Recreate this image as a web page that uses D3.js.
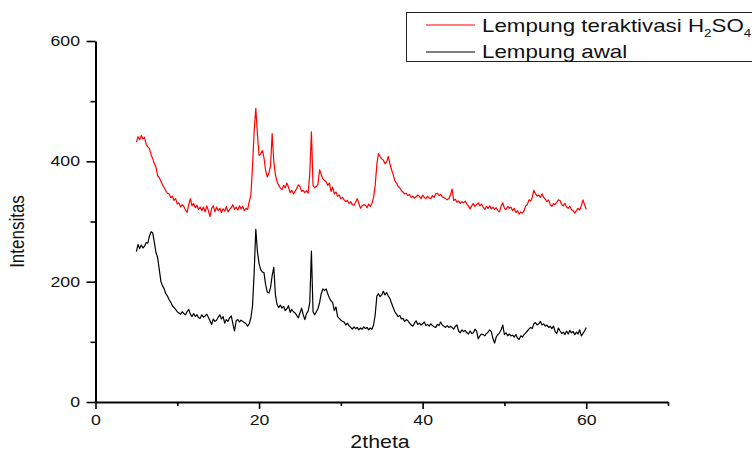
<!DOCTYPE html>
<html>
<head>
<meta charset="utf-8" />
<title>XRD Lempung</title>
<script src="https://d3js.org/d3.v7.min.js"></script>
<style>
body { margin: 0; background: #fff; }
text { font-family: "Liberation Sans", Arial, sans-serif; fill: #111; }
</style>
</head>
<body>
<div id="xrd_figure"></div>
<script>

// 2theta grid of the scan: 5 to 60 degrees, step 0.2
var theta_start = 5, theta_step = 0.2

// Lempung teraktivasi H2SO4 (red), one row = 2 degrees
var activated = [
  432,441,436,443,437,440,428,424,421,411,
  404,396,390,376,373,367,361,356,351,347,
  346,340,342,335,338,329,331,324,328,325,
  319,315,328,338,326,330,323,327,320,324,
  318,324,316,326,318,308,322,326,316,324,
  318,322,315,321,317,325,316,320,323,328,
  320,324,319,326,321,325,318,322,320,333,
  344,392,450,488,445,410,412,418,406,385,
  374,380,392,446,400,378,366,360,356,353,
  360,356,364,357,348,352,346,350,355,361,
  358,350,352,348,351,347,380,449,360,356,
  358,362,386,378,371,368,366,360,364,350,
  357,346,349,342,344,338,340,336,333,335,
  330,333,328,327,332,338,330,322,326,328,
  327,323,329,325,330,340,360,395,413,408,
  404,402,396,399,408,396,386,378,368,364,
  358,356,351,349,346,347,343,345,340,342,
  339,341,344,342,338,344,340,338,342,339,
  338,343,340,346,347,343,345,341,340,338,
  336,338,344,354,335,337,332,334,330,333,
  331,334,329,326,321,326,330,325,328,331,
  326,329,324,320,325,322,326,321,324,320,
  323,318,316,326,331,322,320,325,322,324,
  318,322,315,318,312,316,314,318,326,328,
  336,334,340,352,346,342,344,340,346,340,
  337,333,336,328,325,330,328,332,336,335,
  328,326,330,324,322,325,320,318,314,318,
  322,319,326,336,328,320
]

// Lempung awal (black)
var raw = [
  250,262,255,261,256,259,265,264,276,283,
  281,265,248,240,220,200,193,188,180,176,
  170,166,160,157,154,150,148,146,150,147,
  145,150,154,146,142,147,142,145,140,139,
  145,141,143,146,141,135,129,138,134,136,
  141,145,138,142,131,137,134,140,143,130,
  118,135,137,133,136,134,132,130,126,130,
  140,160,215,287,250,230,220,216,215,195,
  183,181,190,210,224,178,162,157,161,156,
  159,152,155,160,149,154,150,148,144,140,
  148,156,145,137,147,151,165,251,150,145,
  150,155,165,180,188,185,188,180,173,168,
  165,152,158,142,139,136,134,133,128,131,
  127,124,121,125,122,124,120,123,121,125,
  122,124,120,123,121,128,145,176,180,175,
  178,184,178,182,176,172,164,157,150,146,
  142,144,138,139,134,137,135,131,128,126,
  131,135,129,131,128,130,133,127,129,126,
  130,127,125,124,129,127,133,128,126,124,
  127,124,126,124,121,126,128,118,115,120,
  117,119,115,113,118,114,115,121,118,105,
  110,113,112,110,114,116,120,117,105,98,
  108,112,115,120,128,112,115,110,113,110,
  111,108,112,106,104,110,108,112,115,118,
  121,124,122,130,132,128,130,134,128,130,
  126,128,124,126,122,126,117,114,123,118,
  114,116,112,118,113,119,115,117,112,116,
  113,120,110,114,118,124
]

var x_major = [0, 20, 40, 60]
var x_minor = [10, 30, 50, 70]
var y_major = [0, 200, 400, 600]
var y_minor = [100, 300, 500]

var series = [
  {name: "Lempung teraktivasi H2SO4", color: "#ff0000", values: activated},
  {name: "Lempung awal", color: "#000000", values: raw}
]

var width = 752, height = 452
var stretch = 1.22   // the picture is a bit wider than tall, text too

var svg = d3.select("#xrd_figure").append("svg")
    .attr("width", width)
    .attr("height", height)

svg.append("rect")
    .attr("width", width)
    .attr("height", height)
    .attr("fill", "#fff")

var xScale = d3.scaleLinear().domain([0, 70]).range([95.5, 668])
var yScale = d3.scaleLinear().domain([0, 600]).range([402, 41])

// minor ticks first, no labels
svg.append("g")
    .attr("transform", "translate(0," + yScale(0) + ")")
    .call(d3.axisBottom(xScale).tickValues(x_minor).tickSize(4).tickFormat(""))
    .call(g => g.select(".domain").remove())
svg.append("g")
    .attr("transform", "translate(" + xScale(0) + ",0)")
    .call(d3.axisLeft(yScale).tickValues(y_minor).tickSize(5).tickFormat(""))
    .call(g => g.select(".domain").remove())

var xAxis = svg.append("g")
    .attr("class", "axis")
    .attr("transform", "translate(0," + yScale(0) + ")")
    .call(d3.axisBottom(xScale).tickValues(x_major).tickSize(7).tickSizeOuter(0).tickPadding(5.5))

var yAxis = svg.append("g")
    .attr("class", "axis")
    .attr("transform", "translate(" + xScale(0) + ",0)")
    .call(d3.axisLeft(yScale).tickValues(y_major).tickSize(9).tickSizeOuter(0))

svg.selectAll(".tick line").attr("stroke", "#000").attr("stroke-width", 1.6)
svg.selectAll(".domain").attr("stroke", "#000").attr("stroke-width", 2)

svg.selectAll(".axis text")
    .attr("font-family", "Liberation Sans, Arial, sans-serif")
    .attr("font-size", 14.5)
    .attr("fill", "#111")
xAxis.selectAll("text").attr("transform", "scale(" + stretch + ",1)")
yAxis.selectAll("text")
    .attr("x", -15.5 / stretch)
    .attr("transform", "scale(" + stretch + ",1)")

// axis titles
svg.append("text")
    .text("2theta")
    .attr("font-size", 17.5)
    .attr("text-anchor", "middle")
    .attr("transform", "translate(380,448) scale(" + stretch + ",1)")

svg.append("text")
    .text("Intensitas")
    .attr("font-size", 17)
    .attr("text-anchor", "middle")
    .attr("transform", "translate(24,231.5) scale(" + stretch + ",1) rotate(-90)")

// the two scans
var valueline = d3.line()
    .x((d, i) => xScale(theta_start + i * theta_step))
    .y(d => yScale(d))

svg.selectAll(".scan")
    .data(series)
    .enter().append("path")
    .attr("class", "scan")
    .attr("d", d => valueline(d.values))
    .attr("fill", "none")
    .attr("stroke", d => d.color)
    .attr("stroke-width", 1.2)
    .attr("stroke-linejoin", "round")

// legend box, runs off the right edge like the original
var legend = svg.append("g")

legend.append("rect")
    .attr("x", 406.5)
    .attr("y", 12.5)
    .attr("width", 360)
    .attr("height", 49)
    .attr("fill", "#fff")
    .attr("stroke", "#222")
    .attr("stroke-width", 1)

legend.selectAll(".key")
    .data(series)
    .enter().append("line")
    .attr("x1", 426)
    .attr("x2", 475)
    .attr("y1", (d, i) => 25 + i * 27)
    .attr("y2", (d, i) => 25 + i * 27)
    .attr("stroke", d => d.color)
    .attr("stroke-width", 1)

var label1 = legend.append("text")
    .attr("font-size", 18.3)
    .attr("transform", "translate(482,31.5) scale(" + stretch + ",1)")
label1.append("tspan").text("Lempung teraktivasi H")
label1.append("tspan").text("2").attr("font-size", 11).attr("dy", 5.5)
label1.append("tspan").text("SO").attr("dy", -5.5)
label1.append("tspan").text("4").attr("font-size", 11).attr("dy", 5.5)

legend.append("text")
    .text("Lempung awal")
    .attr("font-size", 18.3)
    .attr("transform", "translate(482,58.3) scale(" + stretch + ",1)")

</script>
</body>
</html>
